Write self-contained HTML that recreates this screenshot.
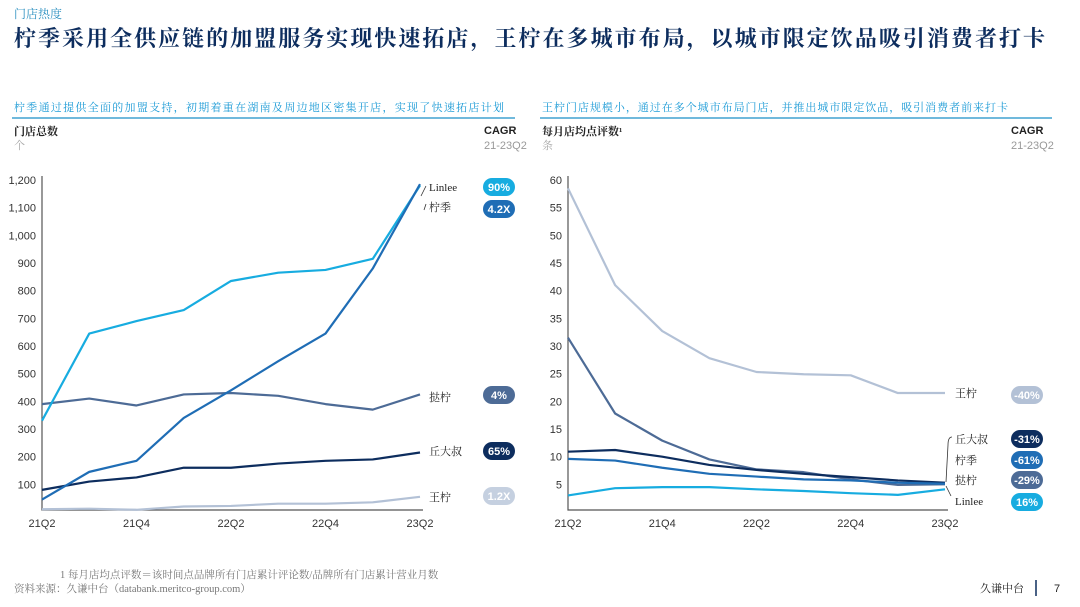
<!DOCTYPE html>
<html><head><meta charset="utf-8">
<style>
body{margin:0;background:#fff;}
svg{display:block;font-family:"Liberation Sans","Noto Sans CJK SC",sans-serif;}
.serif{font-family:"Liberation Serif","Noto Serif CJK SC",serif;}
</style></head>
<body>
<svg id="root" width="1080" height="607" viewBox="0 0 1080 607">
<text class="serif" x="14" y="18" font-size="12" fill="#2a8fc0">门店热度</text>
<text class="serif" x="14" y="46" font-size="22" font-weight="bold" fill="#0d2d5e" textLength="1031" lengthAdjust="spacing">柠季采用全供应链的加盟服务实现快速拓店，王柠在多城市布局，以城市限定饮品吸引消费者打卡</text>

<text class="serif" x="14" y="111" font-size="11" fill="#1a9ad6" textLength="490" lengthAdjust="spacing">柠季通过提供全面的加盟支持，初期着重在湖南及周边地区密集开店，实现了快速拓店计划</text>
<line x1="12" y1="118" x2="515" y2="118" stroke="#1a8fc8" stroke-width="1.2"/>
<text class="serif" x="542" y="111" font-size="11" fill="#1a9ad6" textLength="466" lengthAdjust="spacing">王柠门店规模小，通过在多个城市布局门店，并推出城市限定饮品，吸引消费者前来打卡</text>
<line x1="540" y1="118" x2="1052" y2="118" stroke="#1a8fc8" stroke-width="1.2"/>

<text class="serif" x="14" y="135" font-size="11" font-weight="bold" fill="#222">门店总数</text>
<text class="serif" x="14" y="149" font-size="11" fill="#aaa">个</text>
<text x="484" y="134" font-size="11" font-weight="bold" fill="#222">CAGR</text>
<text x="484" y="149" font-size="11" fill="#999">21-23Q2</text>

<text class="serif" x="542" y="135" font-size="11" font-weight="bold" fill="#222">每月店均点评数¹</text>
<text class="serif" x="542" y="149" font-size="11" fill="#aaa">条</text>
<text x="1011" y="134" font-size="11" font-weight="bold" fill="#222">CAGR</text>
<text x="1011" y="149" font-size="11" fill="#999">21-23Q2</text>

<g id="left"></g>
<g id="right"></g>

<text class="serif" x="60" y="578" font-size="10.5" fill="#777">1  每月店均点评数＝该时间点品牌所有门店累计评论数/品牌所有门店累计营业月数</text>
<text class="serif" x="14" y="592" font-size="10.5" fill="#777">资料来源：久谦中台（databank.meritco-group.com）</text>
<text class="serif" x="980" y="592" font-size="11" fill="#222">久谦中台</text>
<line x1="1036" y1="580" x2="1036" y2="596" stroke="#0d2d5e" stroke-width="1.5"/>
<text x="1054" y="592" font-size="11" fill="#222">7</text>
</svg>
<script>
const quarters=["21Q2","21Q3","21Q4","22Q1","22Q2","22Q3","22Q4","23Q1","23Q2"];
const xLabels=["21Q2","21Q4","22Q2","22Q4","23Q2"];
const leftTicks=[100,200,300,400,500,600,700,800,900,1000,1100,1200];
const leftLinlee=[330,645,690,730,835,865,875,915,1180];
const leftNingji=[45,145,185,340,440,545,645,880,1185];
const leftTaning=[390,410,385,425,430,420,390,370,425];
const leftQiu=[80,110,125,160,160,175,185,190,215];
const leftWang=[10,12,8,20,22,30,30,35,55];
const rightTicks=[5,10,15,20,25,30,35,40,45,50,55,60];
const rightWang=[58.5,41,32.7,27.8,25.3,24.9,24.7,21.5,21.5];
const rightTaning=[31.5,17.8,12.9,9.5,7.7,7.2,5.9,4.9,5.0];
const rightQiu=[10.9,11.2,10.0,8.5,7.6,6.9,6.3,5.7,5.3];
const rightNingji=[9.6,9.3,8.0,6.9,6.4,5.9,5.7,5.3,5.1];
const rightLinlee=[3.0,4.3,4.5,4.5,4.1,3.8,3.4,3.1,4.1];
const leftCagr=["90%","4.2X","4%","65%","1.2X"];
const rightCagr=["-40%","-31%","-61%","-29%","16%"];

const NS="http://www.w3.org/2000/svg";
function mk(parent,tag,attrs){const e=document.createElementNS(NS,tag);for(const k in attrs)e.setAttribute(k,attrs[k]);parent.appendChild(e);return e;}
const C={linlee:"#17ace0",ningji:"#1f6db5",taning:"#4d6b96",qiu:"#0d2d5e",wang:"#b3c1d6"};

function chart(g,x0,x1,yMax,ticks,series,labels,pills,tickFmt){
  const yTop=180,y0=512;
  const ys=v=>y0-(v/yMax)*(y0-yTop);
  const xs=i=>x0+i*(x1-x0)/(quarters.length-1);
  const ax=mk(g,"path",{d:`M${x0} ${yTop-4}V${y0-2}H${x1+3}`,stroke:"#555","stroke-width":1.2,fill:"none"});
  
  
  ticks.forEach(t=>{const e=mk(g,"text",{x:x0-6,y:ys(t)+4,"font-size":11,"text-anchor":"end",fill:"#333"});e.textContent=tickFmt(t);
    
    });
  xLabels.forEach(l=>{const i=quarters.indexOf(l);const e=mk(g,"text",{x:xs(i),y:527,"font-size":11,"text-anchor":"middle",fill:"#333"});e.textContent=l;
    
    });
  series.forEach(s=>{const p=mk(g,"polyline",{points:s.v.map((v,i)=>xs(i)+","+ys(v)).join(" "),fill:"none",stroke:s.c,"stroke-width":2.2,"stroke-linejoin":"round"});
    
    });
  labels.forEach(l=>{const e=mk(g,"text",{class:"serif",x:l.x,y:l.y,"font-size":11,fill:"#222"});e.textContent=l.t;
    
    });
  pills.forEach(p=>{const r=mk(g,"rect",{x:p.x-16,y:p.y-9,width:32,height:18,rx:9,fill:p.c});
    
    
    const t=mk(g,"text",{x:p.x,y:p.y+4,"font-size":11,"font-weight":"bold","text-anchor":"middle",fill:"#fff"});t.textContent=p.t;
    
    });
  return {xs,ys};
}
const fmt=t=>t>=1000?Math.floor(t/1000)+","+String(t%1000).padStart(3,"0"):String(t);
const L=document.getElementById("left");
chart(L,42,420,1200*(512-180)/((512-180)),leftTicks,[
 {v:leftWang,c:C.wang},{v:leftQiu,c:C.qiu},{v:leftTaning,c:C.taning},{v:leftLinlee,c:C.linlee},{v:leftNingji,c:C.ningji}],
 [{x:429,y:191,t:"Linlee"},{x:429,y:211,t:"柠季"},{x:429,y:401,t:"挞柠"},{x:429,y:455,t:"丘大叔"},{x:429,y:501,t:"王柠"}],
 [{x:499,y:187,t:leftCagr[0],c:C.linlee},{x:499,y:209,t:leftCagr[1],c:C.ningji},{x:499,y:395,t:leftCagr[2],c:C.taning},{x:499,y:451,t:leftCagr[3],c:C.qiu},{x:499,y:496,t:leftCagr[4],c:"#c5d0e0"}],fmt);
// adjust left y scale: 1200 at y=180, 0 at 512 (defined via yMax)
const R=document.getElementById("right");
chart(R,568,945,60,rightTicks,[
 {v:rightWang,c:C.wang},{v:rightTaning,c:C.taning},{v:rightQiu,c:C.qiu},{v:rightNingji,c:C.ningji},{v:rightLinlee,c:C.linlee}],
 [{x:955,y:397,t:"王柠"},{x:955,y:443,t:"丘大叔"},{x:955,y:464,t:"柠季"},{x:955,y:484,t:"挞柠"},{x:955,y:505,t:"Linlee"}],
 [{x:1027,y:395,t:rightCagr[0],c:C.wang},{x:1027,y:439,t:rightCagr[1],c:C.qiu},{x:1027,y:460,t:rightCagr[2],c:C.ningji},{x:1027,y:480,t:rightCagr[3],c:C.taning},{x:1027,y:502,t:rightCagr[4],c:C.linlee}],String);
const br=mk(R,"path",{d:"M952 437 Q948 437 948 445 L946 482 M946 486 L951 496",fill:"none",stroke:"#333","stroke-width":0.8});


const bl=mk(L,"path",{d:"M426 186 L421 196 M426 204 L424 210",fill:"none",stroke:"#333","stroke-width":0.8});


</script>
</body></html>
